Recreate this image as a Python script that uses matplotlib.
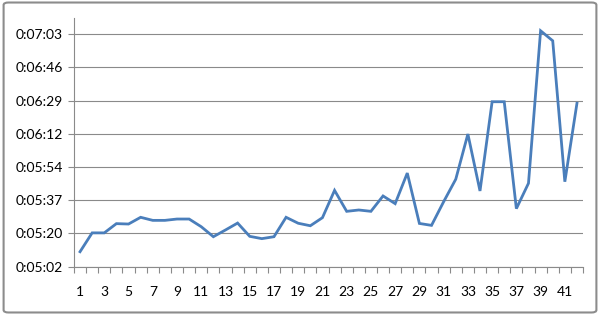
import matplotlib
matplotlib.use("Agg")
import matplotlib.pyplot as plt
from matplotlib.ticker import FixedLocator, FuncFormatter
from matplotlib.patches import FancyBboxPatch
import numpy as np

plt.rcParams['font.family'] = ['Lato', 'DejaVu Sans']

# lap times in seconds, one per run
runs = list(range(1, 43))
times = [310.2, 320.0, 320.0, 324.8, 324.6, 328.1, 326.5, 326.5, 327.2, 327.2,
         323.2, 318.0, 321.5, 325.1, 318.2, 317.0, 318.0, 328.1, 325.0, 323.7,
         327.9, 342.1, 331.2, 331.9, 331.2, 339.2, 335.2, 351.1, 324.9, 323.9,
         336.2, 347.9, 371.4, 341.8, 388.2, 388.2, 332.6, 345.8, 425.1, 419.9,
         346.6, 387.4]
xlabels = [str(r) for r in runs[::2]]

# excel-style axis: 0.0035 .. 0.005 days, major unit 0.0002 days
day = 86400
ymin, ymax, ystep = 0.0035 * day, 0.005 * day, 0.0002 * day
yticks = [ymin + k * ystep for k in range(8)]


def hms(v, pos=None):
    s = int(round(v))
    return "%d:%02d:%02d" % (s // 3600, (s // 60) % 60, s % 60)


fig = plt.figure(figsize=(6, 3.15), dpi=100)
ax = fig.add_axes([0.1233, 0.1533, 0.8484, 0.7911])

ax.plot(runs, times, color='#4a7ebb', lw=2.0, solid_joinstyle='miter')

ax.set_xlim(0.5, 42.5)
ax.set_ylim(ymin, ymax)

ax.yaxis.set_major_locator(FixedLocator(yticks))
ax.yaxis.set_major_formatter(FuncFormatter(hms))
ax.grid(axis='y', color='#8a8a8a', lw=0.8)
ax.set_axisbelow(True)

# ticks between categories, labels on every other category
ax.xaxis.set_major_locator(FixedLocator(np.arange(0.5, 43, 1)))
ax.xaxis.set_major_formatter(FuncFormatter(lambda v, p: ""))
ax.xaxis.set_minor_locator(FixedLocator(runs[::2]))
ax.set_xticklabels(xlabels, minor=True)
ax.tick_params(axis='x', which='major', length=4, width=0.8, color='#8a8a8a')
ax.tick_params(axis='x', which='minor', length=0, pad=14, labelsize=10)
ax.tick_params(axis='y', length=4, width=0.8, color='#8a8a8a', labelsize=10, pad=4)

for side in ['top', 'right']:
    ax.spines[side].set_visible(False)
for side in ['left', 'bottom']:
    ax.spines[side].set_color('#8a8a8a')
    ax.spines[side].set_linewidth(0.8)

border = FancyBboxPatch((0.006, 0.008), 0.988, 0.984, boxstyle="round,pad=0,rounding_size=0.008",
                        transform=fig.transFigure, fill=False, ec='#8c8c8c', lw=1.5)
fig.patches.append(border)

plt.savefig('out.png', dpi=100)
